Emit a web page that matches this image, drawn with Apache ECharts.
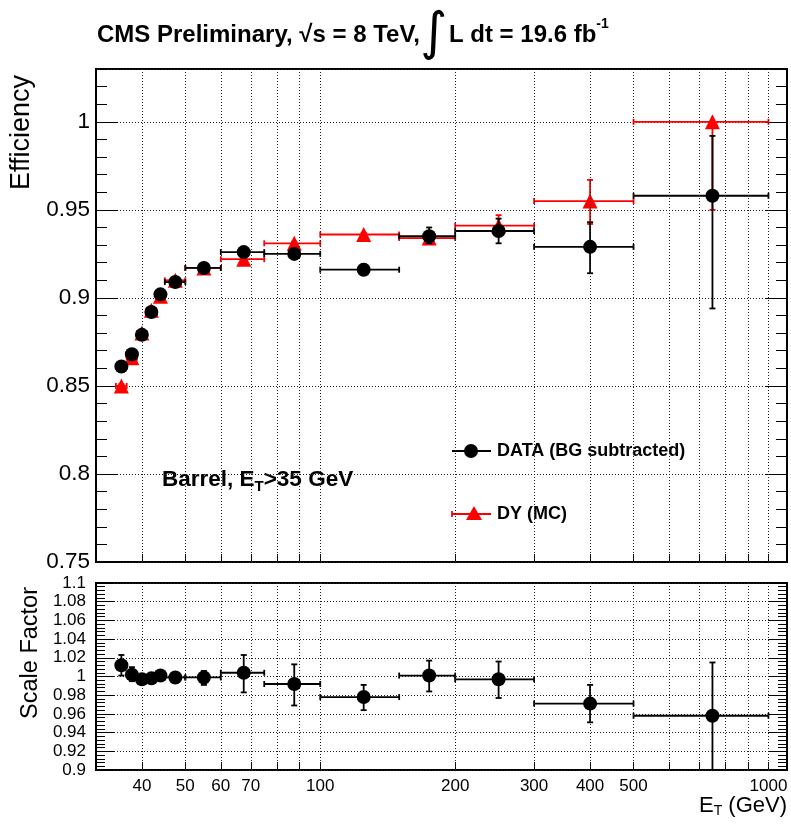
<!DOCTYPE html>
<html><head><meta charset="utf-8">
<script src="https://cdn.jsdelivr.net/npm/echarts@6/dist/echarts.min.js"></script>
<style>html,body{margin:0;padding:0;background:#fff}#c{width:791px;height:825px}</style>
</head><body><div id="c"></div>
<script>
// ---- data ----
const binLo     = [35, 37, 39, 41, 43, 45,   50, 60,   75,   100, 150, 200, 300, 500];
const binHi     = [37, 39, 41, 43, 45, 50,   60, 75,   100,  150, 200, 300, 500, 1000];
const binCenter = [36, 38, 40, 42, 44, 47.5, 55, 67.5, 87.5, 125, 175, 250, 400, 750];

const dataEff   = [0.861, 0.868, 0.879, 0.892, 0.902, 0.909, 0.917, 0.926, 0.925, 0.916, 0.935, 0.938, 0.929, 0.958];
const dataErrLo = [0.002, 0.002, 0.002, 0.002, 0.002, 0.002, 0.002, 0.003, 0.003, 0.003, 0.004, 0.007, 0.015, 0.064];
const dataErrHi = [0.002, 0.002, 0.002, 0.002, 0.002, 0.002, 0.002, 0.003, 0.003, 0.003, 0.005, 0.007, 0.014, 0.034];

const mcEff     = [0.850, 0.866, 0.880, 0.893, 0.901, 0.910, 0.917, 0.922, 0.931, 0.936, 0.934, 0.941, 0.955, 1.000];
const mcErrLo   = [0.001, 0.001, 0.001, 0.001, 0.001, 0.001, 0.001, 0.001, 0.001, 0.001, 0.003, 0.006, 0.013, 0.050];
const mcErrHi   = [0.001, 0.001, 0.001, 0.001, 0.001, 0.001, 0.001, 0.001, 0.001, 0.001, 0.003, 0.006, 0.012, 0.000];

const sf        = [1.012, 1.002, 0.997, 0.998, 1.001, 0.999, 0.999, 1.004, 0.992, 0.978, 1.001, 0.997, 0.971, 0.958];
const sfErrLo   = [0.011, 0.007, 0.004, 0.004, 0.004, 0.003, 0.008, 0.021, 0.023, 0.014, 0.017, 0.020, 0.020, 0.200];
const sfErrHi   = [0.011, 0.008, 0.004, 0.004, 0.004, 0.003, 0.007, 0.019, 0.021, 0.013, 0.016, 0.019, 0.020, 0.057];

const xLabelValues = [40, 50, 60, 70, 100, 200, 300, 400, 500, 1000];
const xTickValues  = [40, 50, 60, 70, 80, 90, 100, 200, 300, 400, 500, 600, 700, 800, 900, 1000];

const FONT = '"Liberation Sans", Arial, Helvetica, sans-serif';

function errItems(val, lo, hi) {
  return binCenter.map((c, i) => [binLo[i], binHi[i], c, val[i], val[i] - lo[i], val[i] + hi[i]]);
}
function errRender(color, cap, lw) {
  return function (params, api) {
    const xl = api.value(0), xh = api.value(1), xc = api.value(2);
    const y = api.value(3), yl = api.value(4), yh = api.value(5);
    const pL = api.coord([xl, y]), pH = api.coord([xh, y]);
    const pB = api.coord([xc, yl]), pT = api.coord([xc, yh]);
    const st = { stroke: color, lineWidth: lw };
    const ch = [
      { type: 'line', shape: { x1: pL[0], y1: pL[1], x2: pH[0], y2: pH[1] }, style: st },
      { type: 'line', shape: { x1: pL[0], y1: pL[1] - cap, x2: pL[0], y2: pL[1] + cap }, style: st },
      { type: 'line', shape: { x1: pH[0], y1: pH[1] - cap, x2: pH[0], y2: pH[1] + cap }, style: st },
      { type: 'line', shape: { x1: pB[0], y1: pB[1], x2: pT[0], y2: pT[1] }, style: st },
      { type: 'line', shape: { x1: pB[0] - cap, y1: pB[1], x2: pB[0] + cap, y2: pB[1] }, style: st },
      { type: 'line', shape: { x1: pT[0] - cap, y1: pT[1], x2: pT[0] + cap, y2: pT[1] }, style: st }
    ];
    return { type: 'group', children: ch };
  };
}

const dotted = { type: [1, 2], color: '#222', width: 1 };
function vGrid() {
  return {
    silent: true, symbol: ['none', 'none'], label: { show: false },
    lineStyle: dotted, emphasis: { disabled: true }, animation: false,
    data: xTickValues.map(v => ({ xAxis: v }))
  };
}
function xAxisDef(grid, labels) {
  return {
    type: 'log', logBase: 10, gridIndex: grid, min: 31.6, max: 1100,
    axisLine: { show: false },
    axisTick: { show: true, inside: true, length: 8, customValues: xTickValues, lineStyle: { color: '#000', width: 1 } },
    axisLabel: labels ? { show: true, customValues: xLabelValues, fontSize: 17, color: '#000', fontFamily: FONT, margin: 8,
                          formatter: v => String(Math.round(v)) } : { show: false },
    splitLine: { show: false }, minorTick: { show: false }, minorSplitLine: { show: false }
  };
}
function yAxisDef(grid, pos, min, max, interval, tickLen, label, split) {
  return {
    type: 'value', gridIndex: grid, position: pos, min: min, max: max, interval: interval,
    axisLine: { show: false },
    axisTick: { show: true, inside: true, length: tickLen, lineStyle: { color: '#000', width: 1 } },
    axisLabel: label ? Object.assign({ show: true, color: '#000', fontFamily: FONT, showMaxLabel: false }, label) : { show: false },
    splitLine: split ? { show: true, lineStyle: dotted } : { show: false }
  };
}

const chart = echarts.init(document.getElementById('c'), null, { renderer: 'canvas' });
chart.setOption({
  animation: false,
  backgroundColor: '#fff',
  grid: [
    { left: 96, top: 69, width: 691, height: 493, show: true, borderColor: '#000', borderWidth: 2, backgroundColor: 'transparent' },
    { left: 96, top: 583, width: 691, height: 187, show: true, borderColor: '#000', borderWidth: 2, backgroundColor: 'transparent' }
  ],
  xAxis: [xAxisDef(0, false), xAxisDef(1, true)],
  yAxis: [
    yAxisDef(0, 'left', 0.75, 1.03, 0.05, 22, { fontSize: 22.5, margin: 6 }, true),
    yAxisDef(0, 'left', 0.75, 1.03, 0.01, 11, null, false),
    yAxisDef(0, 'right', 0.75, 1.03, 0.05, 22, null, false),
    yAxisDef(0, 'right', 0.75, 1.03, 0.01, 11, null, false),
    yAxisDef(1, 'left', 0.9, 1.1, 0.02, 18, { fontSize: 17, margin: 10, showMaxLabel: true }, true),
    yAxisDef(1, 'left', 0.9, 1.1, 0.004, 9, null, false),
    yAxisDef(1, 'right', 0.9, 1.1, 0.02, 18, null, false),
    yAxisDef(1, 'right', 0.9, 1.1, 0.004, 9, null, false)
  ],
  series: [
    { type: 'custom', name: 'mcErr', xAxisIndex: 0, yAxisIndex: 0, clip: true, z: 2,
      renderItem: errRender('#ff0000', 3, 1.8), encode: { x: [0, 1, 2], y: [3, 4, 5] },
      data: errItems(mcEff, mcErrLo, mcErrHi) },
    { type: 'scatter', name: 'DY (MC)', xAxisIndex: 0, yAxisIndex: 0, z: 3,
      symbol: 'triangle', symbolSize: 15, itemStyle: { color: '#ff0000', opacity: 1 },
      data: binCenter.map((c, i) => [c, mcEff[i]]), markLine: vGrid() },
    { type: 'custom', name: 'dataErr', xAxisIndex: 0, yAxisIndex: 0, clip: true, z: 4,
      renderItem: errRender('#000', 3, 1.8), encode: { x: [0, 1, 2], y: [3, 4, 5] },
      data: errItems(dataEff, dataErrLo, dataErrHi) },
    { type: 'scatter', name: 'DATA (BG subtracted)', xAxisIndex: 0, yAxisIndex: 0, z: 5,
      symbol: 'circle', symbolSize: 14, itemStyle: { color: '#000', opacity: 1 },
      data: binCenter.map((c, i) => [c, dataEff[i]]) },
    { type: 'custom', name: 'sfErr', xAxisIndex: 1, yAxisIndex: 4, clip: true, z: 4,
      renderItem: errRender('#000', 3, 1.8), encode: { x: [0, 1, 2], y: [3, 4, 5] },
      data: errItems(sf, sfErrLo, sfErrHi) },
    { type: 'scatter', name: 'Scale Factor', xAxisIndex: 1, yAxisIndex: 4, z: 5,
      symbol: 'circle', symbolSize: 14, itemStyle: { color: '#000', opacity: 1 },
      data: binCenter.map((c, i) => [c, sf[i]]), markLine: vGrid() }
  ],
  graphic: [
    { type: 'text', x: 97, y: 35, style: {
        text: '{b|CMS Preliminary, √s = 8 TeV,}{i|∫}{b|L dt = 19.6 fb}{s|-1}',
        verticalAlign: 'middle', fill: '#000',
        rich: {
          b: { fontSize: 24, fontWeight: 'bold', fontFamily: FONT, fill: '#000', verticalAlign: 'middle' },
          i: { fontSize: 52, fontFamily: '"DejaVu Sans", sans-serif', fill: '#000', verticalAlign: 'middle', padding: [0, 2, 0, 0] },
          s: { fontSize: 14, fontWeight: 'bold', fontFamily: FONT, fill: '#000', verticalAlign: 'top', padding: [8, 0, 0, 0] }
        } } },
    { type: 'text', x: 22, y: 75, rotation: Math.PI / 2, style: {
        text: 'Efficiency', fontSize: 27, fontFamily: FONT, fill: '#000', align: 'right', verticalAlign: 'middle' } },
    { type: 'text', x: 31, y: 587, rotation: Math.PI / 2, style: {
        text: 'Scale Factor', fontSize: 23.5, fontFamily: FONT, fill: '#000', align: 'right', verticalAlign: 'middle' } },
    { type: 'text', x: 787, y: 806, style: {
        text: '{n|E}{sub|T}{n| (GeV)}', align: 'right', verticalAlign: 'middle',
        rich: { n: { fontSize: 22, fontFamily: FONT, fill: '#000' },
                sub: { fontSize: 14, fontFamily: FONT, fill: '#000', verticalAlign: 'bottom', padding: [10, 0, 0, 0] } } } },
    { type: 'text', x: 162, y: 480, style: {
        text: '{b|Barrel, E}{sub|T}{b|>35 GeV}', verticalAlign: 'middle',
        rich: { b: { fontSize: 22.5, fontWeight: 'bold', fontFamily: FONT, fill: '#000' },
                sub: { fontSize: 15, fontWeight: 'bold', fontFamily: FONT, fill: '#000', verticalAlign: 'bottom', padding: [13, 0, 0, 0] } } } },
    // legend
    { type: 'line', shape: { x1: 452, y1: 451, x2: 491, y2: 451 }, style: { stroke: '#000', lineWidth: 1.8 } },
    { type: 'circle', shape: { cx: 471, cy: 451, r: 7 }, style: { fill: '#000' } },
    { type: 'text', x: 497, y: 451, style: { text: 'DATA (BG subtracted)', fontSize: 18, fontWeight: 'bold', fontFamily: FONT, fill: '#000', verticalAlign: 'middle' } },
    { type: 'line', shape: { x1: 452, y1: 514, x2: 491, y2: 514 }, style: { stroke: '#ff0000', lineWidth: 1.8 } },
    { type: 'line', shape: { x1: 452, y1: 511, x2: 452, y2: 517 }, style: { stroke: '#ff0000', lineWidth: 1.8 } },
    { type: 'polygon', shape: { points: [[474, 506], [466, 520], [482, 520]] }, style: { fill: '#ff0000' } },
    { type: 'text', x: 497, y: 514, style: { text: 'DY (MC)', fontSize: 18, fontWeight: 'bold', fontFamily: FONT, fill: '#000', verticalAlign: 'middle' } }
  ]
});
</script>
</body></html>
